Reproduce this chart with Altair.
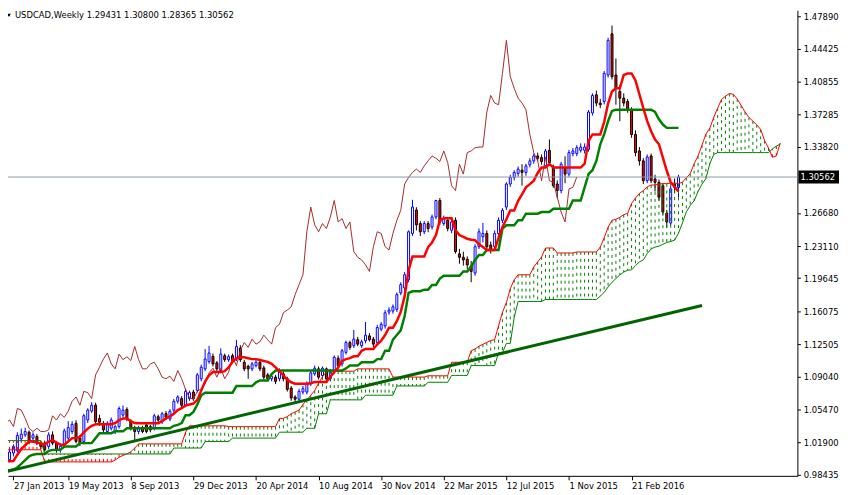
import altair as alt
import pandas as pd

# ---------------- data (weekly bars, index 0 = week of 27 Jan 2013) ----------------
opens = [
1.0058,1.0005,1.0076,1.0101,1.0229,1.0272,1.0301,1.0237,1.0254,1.0183,
1.0183,1.0147,1.0272,1.0183,1.0112,1.0165,1.0237,1.0308,1.0397,1.0237,
1.0201,1.0433,1.0529,1.0593,1.0450,1.0397,1.0308,1.0344,1.0308,1.0361,
1.0486,1.0547,1.0415,1.0344,1.0308,1.0344,1.0379,1.0361,1.0343,1.0468,
1.0414,1.0503,1.0443,1.0539,1.0635,1.0664,1.0592,1.0664,1.0735,1.0753,
1.0878,1.0985,1.1063,1.1120,1.1049,1.0967,1.1127,1.1084,1.1127,1.1091,
1.1209,1.1056,1.1013,1.0985,1.1020,1.1056,1.0995,1.0920,1.0878,1.0895,
1.0878,1.0931,1.0878,1.0778,1.0681,1.0657,1.0735,1.0735,1.0824,1.0931,
1.0985,1.0913,1.0985,1.0878,1.0967,1.1099,1.1038,1.1163,1.1270,1.1235,
1.1299,1.1235,1.1288,1.1341,1.1306,1.1270,1.1413,1.1448,1.1598,1.1609,
1.1627,1.1805,1.1858,1.1948,1.2447,1.2700,1.2554,1.2465,1.2554,1.2518,
1.2625,1.2803,1.2554,1.2589,1.2482,1.2589,1.2226,1.2190,1.2169,1.2097,
1.2019,1.2304,1.2411,1.2447,1.2322,1.2304,1.2446,1.2589,1.2732,1.2981,
1.3052,1.3095,1.3131,1.3106,1.3188,1.3231,1.3284,1.3266,1.3177,1.3345,
1.3159,1.2981,1.2910,1.3159,1.3088,1.3309,1.3309,1.3345,1.3345,1.3355,
1.3748,1.3944,1.3855,1.3872,1.4158,1.4603,1.4158,1.3979,1.3908,1.3872,
1.3783,1.3516,1.3338,1.3231,1.3017,1.3284,1.3035,1.2999,1.2963,1.2667,
1.2560,1.2981,1.29431]
highs = [
1.0112,1.0112,1.0170,1.0300,1.0340,1.0350,1.0320,1.0300,1.0280,1.0200,
1.0210,1.0300,1.0310,1.0200,1.0180,1.0340,1.0420,1.0420,1.0430,1.0270,
1.0500,1.0560,1.0625,1.0620,1.0490,1.0420,1.0420,1.0460,1.0380,1.0580,
1.0590,1.0570,1.0440,1.0370,1.0370,1.0370,1.0400,1.0380,1.0500,1.0490,
1.0520,1.0530,1.0550,1.0660,1.0700,1.0690,1.0770,1.0750,1.0760,1.0940,
1.1030,1.1198,1.1234,1.1150,1.1070,1.1206,1.1150,1.1140,1.1150,1.1298,
1.1240,1.1080,1.1030,1.1060,1.1080,1.1080,1.1020,1.0940,1.0930,1.0920,
1.0990,1.0960,1.0900,1.0800,1.0700,1.0770,1.0800,1.0850,1.0970,1.1020,
1.1010,1.1010,1.1000,1.0980,1.1130,1.1130,1.1200,1.1290,1.1290,1.1406,
1.1330,1.1300,1.1491,1.1370,1.1330,1.1460,1.1490,1.1620,1.1650,1.1680,
1.1810,1.1920,1.2030,1.2480,1.2810,1.2730,1.2580,1.2580,1.2580,1.2650,
1.2810,1.2830,1.2640,1.2620,1.2600,1.2620,1.2280,1.2250,1.2200,1.2150,
1.2330,1.2500,1.2560,1.2480,1.2360,1.2480,1.2620,1.2720,1.3000,1.3080,
1.3130,1.3170,1.3195,1.3200,1.3260,1.3310,1.3320,1.3300,1.3360,1.3462,
1.3190,1.3020,1.3220,1.3280,1.3350,1.3370,1.3400,1.3420,1.3420,1.3780,
1.3960,1.3990,1.3900,1.4200,1.4560,1.4692,1.4336,1.4050,1.3960,1.3900,
1.3810,1.3560,1.3380,1.3260,1.3300,1.3310,1.3080,1.3030,1.2990,1.2700,
1.2960,1.3040,1.30800]
lows = [
0.9969,0.9980,1.0040,1.0080,1.0200,1.0250,1.0170,1.0190,1.0160,1.0120,
1.0090,1.0120,1.0160,1.0080,1.0080,1.0130,1.0210,1.0280,1.0180,1.0150,
1.0170,1.0400,1.0510,1.0380,1.0370,1.0300,1.0280,1.0320,1.0280,1.0340,
1.0460,1.0420,1.0320,1.0201,1.0280,1.0290,1.0290,1.0300,1.0320,1.0410,
1.0390,1.0440,1.0420,1.0510,1.0610,1.0570,1.0570,1.0640,1.0640,1.0730,
1.0850,1.0960,1.1040,1.1010,1.0950,1.0940,1.1060,1.1060,1.1050,1.1070,
1.1060,1.0960,1.0878,1.0960,1.1000,1.0960,1.0870,1.0850,1.0850,1.0820,
1.0850,1.0850,1.0740,1.0640,1.0620,1.0630,1.0710,1.0710,1.0800,1.0910,
1.0870,1.0890,1.0842,1.0850,1.0940,1.1000,1.1010,1.1140,1.1190,1.1210,
1.1230,1.1210,1.1260,1.1280,1.1220,1.1240,1.1390,1.1420,1.1570,1.1580,
1.1600,1.1780,1.1830,1.1920,1.2420,1.2480,1.2420,1.2440,1.2460,1.2490,
1.2600,1.2540,1.2530,1.2470,1.2450,1.2230,1.2120,1.2100,1.2060,1.1920,
1.1990,1.2280,1.2350,1.2280,1.2230,1.2280,1.2420,1.2560,1.2700,1.2950,
1.3020,1.3060,1.2963,1.3070,1.3160,1.3200,1.3230,1.3190,1.3150,1.3180,
1.2940,1.2830,1.2880,1.2990,1.3060,1.3280,1.3280,1.3320,1.3310,1.3330,
1.3720,1.3820,1.3800,1.3840,1.4130,1.4110,1.3837,1.3659,1.3820,1.3750,
1.3480,1.3280,1.3180,1.2980,1.2990,1.2990,1.2900,1.2800,1.2640,1.2510,
1.2536,1.2880,1.28365]
closes = [
1.0005,1.0087,1.0147,1.0265,1.0279,1.0308,1.0201,1.0272,1.0183,1.0147,
1.0112,1.0272,1.0183,1.0112,1.0147,1.0315,1.0351,1.0386,1.0201,1.0183,
1.0479,1.0540,1.0593,1.0415,1.0408,1.0326,1.0397,1.0433,1.0361,1.0557,
1.0540,1.0450,1.0344,1.0308,1.0344,1.0308,1.0308,1.0326,1.0478,1.0432,
1.0500,1.0461,1.0528,1.0635,1.0681,1.0592,1.0742,1.0728,1.0664,1.0920,
1.1002,1.1091,1.1156,1.1038,1.0985,1.1145,1.1084,1.1116,1.1074,1.1227,
1.1084,1.0985,1.0985,1.1038,1.1056,1.0985,1.0895,1.0878,1.0906,1.0849,
1.0967,1.0878,1.0763,1.0671,1.0657,1.0742,1.0771,1.0824,1.0942,1.0992,
1.0895,1.0992,1.0878,1.0949,1.1110,1.1020,1.1181,1.1270,1.1217,1.1306,
1.1252,1.1277,1.1349,1.1299,1.1252,1.1431,1.1466,1.1591,1.1620,1.1655,
1.1787,1.1894,1.2001,1.2465,1.2732,1.2540,1.2465,1.2554,1.2500,1.2625,
1.2803,1.2571,1.2607,1.2500,1.2571,1.2251,1.2190,1.2161,1.2108,1.2037,
1.2304,1.2465,1.2447,1.2304,1.2268,1.2446,1.2589,1.2696,1.2981,1.3052,
1.3106,1.3142,1.3106,1.3177,1.3231,1.3284,1.3259,1.3224,1.3338,1.3213,
1.2963,1.2910,1.3195,1.3088,1.3320,1.3338,1.3373,1.3380,1.3380,1.3758,
1.3937,1.3855,1.3837,1.4175,1.4532,1.4140,1.4015,1.3908,1.3855,1.3783,
1.3516,1.3320,1.3231,1.3017,1.3273,1.3017,1.2999,1.2839,1.2678,1.2571,
1.2928,1.2945,1.30562]

tenkan = [
0.9987,0.9987,0.9990,1.0058,1.0120,1.0160,1.0200,1.0200,1.0190,1.0180,
1.0170,1.0200,1.0215,1.0190,1.0165,1.0165,1.0200,1.0237,1.0237,1.0250,
1.0300,1.0340,1.0370,1.0386,1.0386,1.0386,1.0386,1.0386,1.0400,1.0430,
1.0450,1.0450,1.0420,1.0400,1.0397,1.0397,1.0397,1.0397,1.0397,1.0397,
1.0420,1.0450,1.0470,1.0500,1.0540,1.0560,1.0590,1.0600,1.0610,1.0650,
1.0750,1.0850,1.0914,1.0950,1.0950,1.0950,1.0960,1.1000,1.1060,1.1100,
1.1110,1.1110,1.1100,1.1090,1.1090,1.1080,1.1070,1.1060,1.1040,1.1000,
1.0960,1.0914,1.0870,1.0840,1.0825,1.0825,1.0824,1.0824,1.0830,1.0842,
1.0842,1.0842,1.0842,1.0900,1.0949,1.1000,1.1070,1.1090,1.1100,1.1120,
1.1120,1.1180,1.1200,1.1200,1.1200,1.1250,1.1290,1.1350,1.1430,1.1430,
1.1500,1.1600,1.1770,1.2050,1.2197,1.2197,1.2197,1.2197,1.2300,1.2350,
1.2430,1.2590,1.2610,1.2610,1.2610,1.2480,1.2430,1.2410,1.2390,1.2380,
1.2375,1.2330,1.2300,1.2268,1.2268,1.2268,1.2400,1.2518,1.2600,1.2696,
1.2696,1.2800,1.2870,1.2945,1.2980,1.3017,1.3100,1.3159,1.3159,1.3195,
1.3159,1.3159,1.3159,1.3159,1.3159,1.3159,1.3159,1.3159,1.3200,1.3445,
1.3516,1.3516,1.3516,1.3650,1.3850,1.3980,1.4015,1.4015,1.4158,1.4175,
1.4175,1.4100,1.3950,1.3800,1.3660,1.3550,1.3460,1.3410,1.3266,1.3124,
1.3000,1.2950,1.2900]
kijun = [
0.9890,0.9890,0.9898,0.9920,0.9960,1.0000,1.0040,1.0058,1.0065,1.0065,
1.0065,1.0100,1.0110,1.0110,1.0110,1.0147,1.0147,1.0147,1.0147,1.0183,
1.0183,1.0183,1.0183,1.0237,1.0290,1.0290,1.0290,1.0290,1.0310,1.0310,
1.0310,1.0344,1.0344,1.0344,1.0344,1.0344,1.0344,1.0344,1.0344,1.0344,
1.0344,1.0344,1.0344,1.0370,1.0380,1.0400,1.0485,1.0485,1.0520,1.0600,
1.0700,1.0728,1.0728,1.0728,1.0728,1.0728,1.0728,1.0728,1.0728,1.0799,
1.0799,1.0799,1.0799,1.0799,1.0840,1.0860,1.0860,1.0860,1.0930,1.0967,
1.0967,1.0967,1.0967,1.0967,1.0967,1.0967,1.0967,1.0967,1.0967,1.0967,
1.0967,1.0967,1.0967,1.0967,1.0967,1.0967,1.0967,1.0990,1.1020,1.1020,
1.1020,1.1056,1.1056,1.1056,1.1056,1.1090,1.1090,1.1180,1.1180,1.1300,
1.1350,1.1400,1.1555,1.1805,1.1823,1.1823,1.1823,1.1840,1.1840,1.1890,
1.1890,1.1960,1.1990,1.1990,1.1990,1.1990,1.1990,1.2037,1.2037,1.2090,
1.2160,1.2215,1.2215,1.2268,1.2268,1.2268,1.2268,1.2500,1.2536,1.2536,
1.2536,1.2589,1.2589,1.2660,1.2660,1.2660,1.2660,1.2678,1.2678,1.2678,
1.2714,1.2714,1.2714,1.2714,1.2714,1.2803,1.2803,1.2803,1.2945,1.3088,
1.3130,1.3230,1.3410,1.3520,1.3660,1.3770,1.3783,1.3783,1.3783,1.3783,
1.3783,1.3783,1.3783,1.3783,1.3783,1.3783,1.3760,1.3680,1.3623,1.3587,
1.3587,1.3587,1.3587]

# cloud spans, already shifted 26 weeks ahead (index 0..198)
span_a = [
1.0111,1.0111,1.0111,1.0111,1.0111,1.0111,1.0111,1.0111,1.0111,1.0111,
0.9980,0.9980,0.9980,0.9980,0.9980,0.9980,0.9980,0.9980,0.9980,0.9980,
0.9980,0.9980,0.9980,0.9980,0.9980,0.9980,0.9980,0.9980,1.0000,1.0030,
1.0050,1.0066,1.0090,1.0130,1.0175,1.0175,1.0175,1.0175,1.0175,1.0175,
1.0175,1.0175,1.0175,1.0175,1.0175,1.0175,1.0300,1.0370,1.0370,1.0370,
1.0370,1.0370,1.0370,1.0370,1.0370,1.0370,1.0370,1.0361,1.0361,1.0361,
1.0361,1.0361,1.0361,1.0361,1.0361,1.0361,1.0361,1.0361,1.0361,1.0361,
1.0450,1.0450,1.0470,1.0500,1.0520,1.0540,1.0600,1.0650,1.0700,1.0750,
1.0830,1.0900,1.0950,1.0960,1.0960,1.0960,1.0960,1.0960,1.0960,1.0960,
1.0985,1.0985,1.0985,1.0985,1.0985,1.0985,1.0985,1.0985,1.0985,1.0896,
1.0896,1.0896,1.0896,1.0896,1.0896,1.0896,1.0896,1.0896,1.0910,1.0910,
1.0910,1.0910,1.0910,1.0910,1.1056,1.1056,1.1056,1.1056,1.1056,1.1180,
1.1200,1.1230,1.1250,1.1270,1.1290,1.1300,1.1450,1.1595,1.1700,1.1850,
1.1947,1.2001,1.2001,1.2001,1.2001,1.2086,1.2140,1.2193,1.2290,1.2290,
1.2290,1.2236,1.2236,1.2236,1.2236,1.2236,1.2247,1.2247,1.2247,1.2247,
1.2247,1.2247,1.2300,1.2400,1.2514,1.2589,1.2600,1.2621,1.2650,1.2664,
1.2771,1.2830,1.2880,1.2910,1.2950,1.2970,1.2970,1.2980,1.2985,1.2985,
1.2990,1.2990,1.2985,1.3000,1.3049,1.3092,1.3200,1.3284,1.3400,1.3520,
1.3584,1.3700,1.3800,1.3894,1.3930,1.3958,1.3950,1.3900,1.3830,1.3760,
1.3700,1.3660,1.3620,1.3570,1.3450,1.3370,1.3270,1.3284,1.3420]
span_b = [
1.0210,1.0210,1.0210,1.0210,1.0210,1.0210,1.0210,1.0210,1.0210,1.0210,
1.0066,1.0066,1.0066,1.0066,1.0066,1.0066,1.0066,1.0066,1.0066,1.0066,
1.0066,1.0066,1.0066,1.0066,1.0066,1.0066,1.0066,1.0066,1.0066,1.0066,
1.0066,1.0066,1.0066,1.0066,1.0066,1.0066,1.0066,1.0066,1.0066,1.0066,
1.0066,1.0066,1.0066,1.0130,1.0130,1.0130,1.0130,1.0130,1.0130,1.0130,
1.0130,1.0200,1.0200,1.0200,1.0200,1.0200,1.0200,1.0200,1.0237,1.0237,
1.0237,1.0237,1.0237,1.0237,1.0237,1.0237,1.0237,1.0237,1.0237,1.0237,
1.0301,1.0301,1.0301,1.0301,1.0301,1.0301,1.0301,1.0343,1.0343,1.0343,
1.0500,1.0500,1.0500,1.0650,1.0650,1.0650,1.0650,1.0650,1.0650,1.0650,
1.0650,1.0650,1.0700,1.0700,1.0700,1.0700,1.0700,1.0700,1.0700,1.0700,
1.0800,1.0800,1.0800,1.0800,1.0800,1.0800,1.0800,1.0800,1.0840,1.0840,
1.0840,1.0840,1.0840,1.0840,1.0914,1.0914,1.0914,1.0914,1.0914,1.1020,
1.1020,1.1020,1.1020,1.1020,1.1020,1.1020,1.1160,1.1160,1.1260,1.1260,
1.1540,1.1712,1.1712,1.1712,1.1712,1.1712,1.1712,1.1712,1.1734,1.1734,
1.1734,1.1734,1.1734,1.1734,1.1734,1.1734,1.1734,1.1734,1.1734,1.1734,
1.1734,1.1734,1.1770,1.1810,1.1870,1.1920,1.1960,1.2000,1.2030,1.2050,
1.2054,1.2100,1.2140,1.2161,1.2230,1.2280,1.2300,1.2310,1.2330,1.2350,
1.2360,1.2375,1.2450,1.2560,1.2680,1.2750,1.2800,1.2900,1.2980,1.3040,
1.3200,1.3300,1.3320,1.3320,1.3320,1.3320,1.3320,1.3320,1.3320,1.3320,
1.3320,1.3320,1.3320,1.3320,1.3320,1.3320,1.3360,1.3390,1.3413]

trend_bars = [0, 178]
trend_prices = [0.98725, 1.16693]

date_ticks = [2, 16, 32, 48, 64, 80, 96, 112, 128, 144, 160]
date_labels = ["27 Jan 2013", "19 May 2013", "8 Sep 2013", "29 Dec 2013", "20 Apr 2014",
               "10 Aug 2014", "30 Nov 2014", "22 Mar 2015", "12 Jul 2015", "1 Nov 2015",
               "21 Feb 2016"]
price_ticks = [1.47890, 1.44425, 1.40855, 1.37285, 1.33820, 1.26680, 1.23110,
               1.19645, 1.16075, 1.12505, 1.09040, 1.05470, 1.01900, 0.98435]
last_price = [1.30562]
title_text = "USDCAD,Weekly  1.29431 1.30800 1.28365 1.30562"

# ---------------- frames ----------------
n = len(closes)
bars = pd.DataFrame({"i": list(range(n)), "open": opens, "high": highs,
                     "low": lows, "close": closes})
bars["dir"] = ["up" if c >= o else "down" for o, c in zip(opens, closes)]
ind = pd.DataFrame({"i": list(range(n)), "tenkan": tenkan, "kijun": kijun})
chik = pd.DataFrame({"i": list(range(n - 26)), "chikou": closes[26:]})
cloud = pd.DataFrame({"i": list(range(len(span_a))), "a": span_a, "b": span_b})
cloud["kind"] = ["bull" if a >= b else "bear" for a, b in zip(span_a, span_b)]
trend = pd.DataFrame({"i": trend_bars, "p": trend_prices})
lastdf = pd.DataFrame({"p": last_price, "t": ["%.5f" % v for v in last_price]})

FONT = "DejaVu Sans"
xs = alt.Scale(domain=[1.875, 201.125], nice=False, zero=False)
ys = alt.Scale(domain=[0.98297, 1.48564], nice=False, zero=False)

label_arr = "[" + ",".join("'" + s + "'" for s in date_labels) + "]"
x_axis = alt.Axis(values=date_ticks, labelExpr=label_arr + "[round(datum.value/16)]",
                  orient="bottom", grid=False, domainColor="black", tickColor="black",
                  tickSize=4, labelAlign="left", labelBaseline="top", labelPadding=2,
                  labelFont=FONT, labelFontSize=8.5, labelColor="black", title=None,
                  labelFlush=False, labelOverlap=False, domainWidth=1)
y_axis = alt.Axis(values=price_ticks, format=".5f", orient="right", grid=False,
                  domainColor="black", tickColor="black", tickSize=3, labelPadding=3,
                  labelFont=FONT, labelFontSize=8.5, labelColor="black", title=None,
                  labelOverlap=False, labelFlush=False, domainWidth=1)

X = alt.X("i:Q", scale=xs, axis=x_axis)


def yq(f):
    return alt.Y(f + ":Q", scale=ys, axis=y_axis)


wick_up = alt.Chart(bars).transform_filter("datum.dir == 'up'").mark_rule(
    color="#0000FF", strokeWidth=1).encode(x=X, y=yq("low"), y2="high:Q")
wick_dn = alt.Chart(bars).transform_filter("datum.dir == 'down'").mark_rule(
    color="#000000", strokeWidth=1).encode(x=X, y=yq("low"), y2="high:Q")
body_up = alt.Chart(bars).transform_filter("datum.dir == 'up'").mark_bar(
    size=2, fill="#FFFFFF", stroke="#0000FF", strokeWidth=1).encode(
    x=X, y=yq("open"), y2="close:Q")
body_dn = alt.Chart(bars).transform_filter("datum.dir == 'down'").mark_bar(
    size=2, fill="#FF0000", stroke="#000000", strokeWidth=1).encode(
    x=X, y=yq("open"), y2="close:Q")

hatch_bull = alt.Chart(cloud).transform_filter("datum.kind == 'bull'").mark_rule(
    color="#008000", strokeWidth=1, strokeDash=[3, 4]).encode(x=X, y=yq("a"), y2="b:Q")
hatch_bear = alt.Chart(cloud).transform_filter("datum.kind == 'bear'").mark_rule(
    color="#FF0000", strokeWidth=1, strokeDash=[3, 4]).encode(x=X, y=yq("a"), y2="b:Q")
line_a = alt.Chart(cloud).mark_line(color="#FF0000", strokeWidth=1).encode(x=X, y=yq("a"))
line_b = alt.Chart(cloud).mark_line(color="#008000", strokeWidth=1).encode(x=X, y=yq("b"))

chikou_line = alt.Chart(chik).mark_line(color="#A52A2A", strokeWidth=1).encode(
    x=X, y=yq("chikou"))
kijun_line = alt.Chart(ind).mark_line(color="#008000", strokeWidth=2.5).encode(
    x=X, y=yq("kijun"))
tenkan_line = alt.Chart(ind).mark_line(color="#FF0000", strokeWidth=2.5).encode(
    x=X, y=yq("tenkan"))
trend_line = alt.Chart(trend).mark_line(color="#006400", strokeWidth=3).encode(
    x=X, y=yq("p"))

price_line = alt.Chart(lastdf).mark_rule(color="#8C9AA6", strokeWidth=1).encode(
    y=yq("p"))
price_box = alt.Chart(lastdf).mark_rule(color="#000000", strokeWidth=13).encode(
    x=alt.value(798), x2=alt.value(839), y=yq("p"))
price_txt = alt.Chart(lastdf).mark_text(align="left", baseline="middle", color="#FFFFFF",
                                        font=FONT, fontSize=8.5).encode(
    x=alt.value(800), y=yq("p"), text="t:N")

title_mark = alt.Chart(lastdf).mark_text(align="left", baseline="middle", color="#000000",
                                         font=FONT, fontSize=8.5).encode(
    x=alt.value(7), y=alt.value(5), text=alt.value(title_text))
title_tri = alt.Chart(lastdf).mark_point(shape="triangle-down", filled=True,
                                         color="#000000", size=14, opacity=1).encode(
    x=alt.value(1), y=alt.value(5))

chart = alt.layer(
    wick_up, wick_dn, body_up, body_dn,
    hatch_bull, hatch_bear, line_a, line_b,
    chikou_line, kijun_line, tenkan_line, trend_line,
    price_line, price_box, price_txt, title_mark, title_tri
).properties(
    width=797, height=470,
    autosize=alt.AutoSizeParams(type="none"),
    padding={"left": 0, "top": 0, "right": 43, "bottom": 17},
).configure_view(strokeWidth=0)

chart.save("out.html", embed_options={"renderer": "svg", "actions": False})
